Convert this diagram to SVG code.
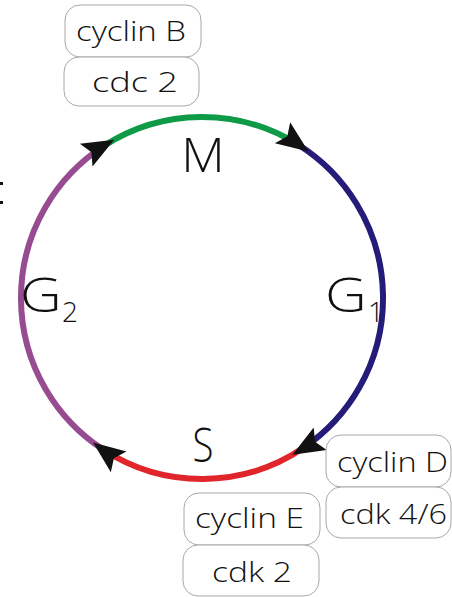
<svg xmlns="http://www.w3.org/2000/svg" xmlns:xlink="http://www.w3.org/1999/xlink" width="452" height="597" viewBox="0 0 452 597">
<style>
.arc{fill:none;stroke-width:6;stroke-linecap:butt}
.box{fill:#fff;stroke:#a8a8a8;stroke-width:1}
.lbl{font-family:"Open Sans","Liberation Sans",Arial,sans-serif;font-weight:300;font-size:27px;fill:#111}
.ph{font-family:"Open Sans","Liberation Sans",Arial,sans-serif;font-weight:300;font-size:48px;fill:#111}
.sub{font-family:"Open Sans","Liberation Sans",Arial,sans-serif;font-weight:300;font-size:28px;fill:#111}
</style>
<defs>
<path id="ah" d="M0,0 L-32,-13 L-26,0 L-32,13 Z" fill="#111"/>
</defs>
<rect width="452" height="597" fill="#fff"/>
<g id="connectors">
<path class="arc" stroke="#0f9a48" d="M103.4,146.2 A181,181 0 0 1 297.9,144.5"/>
<path class="arc" stroke="#241c78" d="M297.9,144.5 A181,181 0 0 1 303.2,448.1"/>
<path class="arc" stroke="#e0262a" d="M303.2,448.1 A181,181 0 0 1 103.4,449.8"/>
<path class="arc" stroke="#974b90" d="M103.4,449.8 A181,181 0 0 1 103.4,146.2"/>
<use xlink:href="#ah" transform="translate(114.2,139.7) rotate(331)"/>
<use xlink:href="#ah" transform="translate(308.4,151.6) rotate(36)"/>
<use xlink:href="#ah" transform="translate(292.5,454.8) rotate(150)"/>
<use xlink:href="#ah" transform="translate(93.1,442.6) rotate(217)"/>
</g>
<g id="phase-M"><text class="ph" transform="translate(203,172) scale(1.05,1)" text-anchor="middle">M</text></g>
<g id="phase-S"><text class="ph" transform="translate(203,462) scale(0.8,1)" text-anchor="middle">S</text></g>
<g id="phase-G2"><text class="ph" transform="translate(20,312) scale(1.2,1)">G</text><text class="sub" x="62" y="322">2</text></g>
<g id="phase-G1"><text class="ph" transform="translate(325,312) scale(1.2,1)">G</text><text class="sub" x="368" y="322">1</text></g>
<g id="cyclinB"><rect class="box" x="65" y="5" width="136" height="52" rx="15"/><text class="lbl" x="76" y="41" textLength="110" lengthAdjust="spacingAndGlyphs">cyclin B</text></g>
<g id="cdc2"><rect class="box" x="64" y="57" width="135" height="49" rx="15"/><text class="lbl" x="92" y="92" textLength="86" lengthAdjust="spacingAndGlyphs">cdc 2</text></g>
<g id="cyclinD"><rect class="box" x="326" y="435" width="125" height="52" rx="15"/><text class="lbl" x="337" y="472" textLength="111" lengthAdjust="spacingAndGlyphs">cyclin D</text></g>
<g id="cdk46"><rect class="box" x="326" y="487" width="125" height="51" rx="15"/><text class="lbl" x="340" y="524" textLength="107" lengthAdjust="spacingAndGlyphs">cdk 4/6</text></g>
<g id="cyclinE"><rect class="box" x="184" y="493" width="136" height="52" rx="15"/><text class="lbl" x="195" y="528" textLength="109" lengthAdjust="spacingAndGlyphs">cyclin E</text></g>
<g id="cdk2"><rect class="box" x="183" y="545" width="136" height="51" rx="15"/><text class="lbl" x="212" y="582" textLength="80" lengthAdjust="spacingAndGlyphs">cdk 2</text></g>
<rect x="0" y="182" width="3" height="3" fill="#111"/>
<rect x="0" y="201" width="3" height="3" fill="#111"/>
</svg>
